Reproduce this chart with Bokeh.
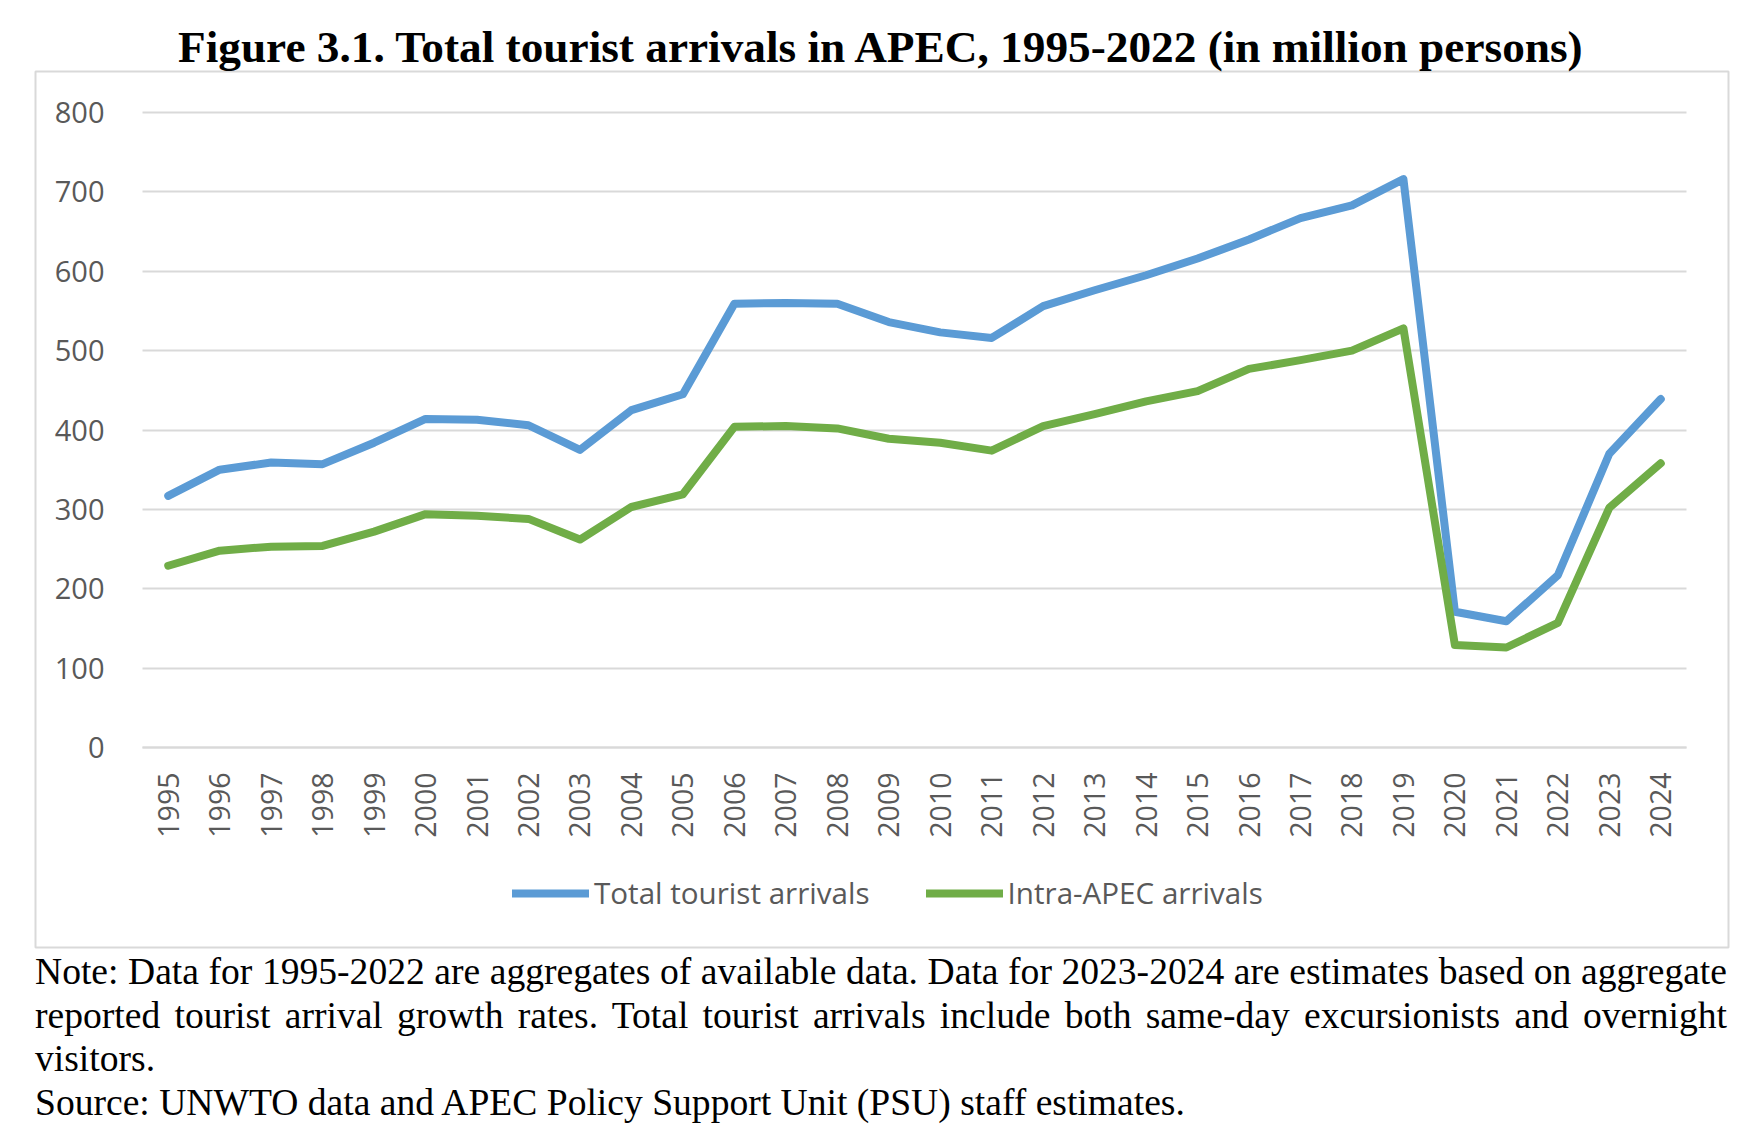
from bokeh.plotting import figure
from bokeh.models import FixedTicker, Legend, LegendItem, Div
from bokeh.layouts import column
from bokeh.embed import file_html
from bokeh.resources import INLINE
import math

years = list(range(1995, 2025))
total_arrivals = [317, 350, 359, 357, 384, 414, 413, 406, 375, 425, 445,
                  559, 560, 559, 536, 523, 516, 556, 576, 595, 616, 640,
                  667, 683, 716, 171, 159, 217, 370, 439]
intra_apec = [229, 248, 253, 254, 272, 294, 292, 288, 262, 303, 319,
              404, 405, 402, 389, 384, 374, 405, 420, 436, 449, 477,
              488, 500, 528, 129, 126, 157, 302, 358]
y_ticks = [0, 100, 200, 300, 400, 500, 600, 700, 800]
series_names = ["Total tourist arrivals", "Intra-APEC arrivals"]

title_text = "Figure 3.1. Total tourist arrivals in APEC, 1995-2022 (in million persons)"
note_text = ("Note: Data for 1995-2022 are aggregates of available data. Data for 2023-2024 are "
             "estimates based on aggregate reported tourist arrival growth rates. Total tourist "
             "arrivals include both same-day excursionists and overnight visitors.")
source_text = "Source: UNWTO data and APEC Policy Support Unit (PSU) staff estimates."

GRAY_TXT = "#595959"
GRID = "#D9D9D9"
BLUE = "#5B9BD5"
GREEN = "#70AD47"

# plot-area geometry (pixels inside the chart box)
X0, X1 = years[0] - 0.5, years[-1] + 0.5
Y0, Y1 = y_ticks[0], y_ticks[-1]
box_w, box_h = 1693, 876
pad_l, pad_r, pad_t, pad_b = 107, 42, 41, 200
sx = (box_w - pad_l - pad_r) / (X1 - X0)
sy = (box_h - pad_t - pad_b) / (Y1 - Y0)

p = figure(width=1757, height=950, output_backend="svg", toolbar_location=None,
           x_range=(X0 - pad_l / sx, X1 + pad_r / sx),
           y_range=(Y0 - pad_b / sy, Y1 + pad_t / sy),
           min_border_left=35, min_border_right=29, min_border_top=71,
           min_border_bottom=3)
p.outline_line_color = GRID
p.outline_line_width = 2
p.background_fill_color = "white"
p.border_fill_color = "white"

p.title.text = title_text
p.title.text_font = "Liberation Serif"
p.title.text_font_size = "45.3px"
p.title.text_font_style = "bold"
p.title.text_color = "black"
p.title.align = "center"
p.title.standoff = 0

r1 = p.line(years, total_arrivals, line_color=BLUE, line_width=8,
            line_join="round", line_cap="round")
r2 = p.line(years, intra_apec, line_color=GREEN, line_width=8,
            line_join="round", line_cap="round")

# axes (placed inside the chart box)
p.xaxis.fixed_location = 0
p.xaxis.bounds = (X0, X1)
p.xaxis.ticker = FixedTicker(ticks=years)
p.xaxis.major_label_orientation = math.pi / 2
p.xaxis.major_label_text_font = "Open Sans"
p.xaxis.major_label_text_font_size = "28.5px"
p.xaxis.major_label_text_color = GRAY_TXT
p.xaxis.major_tick_line_color = None
p.xaxis.minor_tick_line_color = None
p.xaxis.axis_line_color = GRID
p.xaxis.axis_line_width = 2
p.xaxis.major_label_standoff = 19

p.yaxis.fixed_location = X0
p.yaxis.bounds = (Y0, Y1)
p.yaxis.ticker = FixedTicker(ticks=y_ticks)
p.yaxis.major_label_text_font = "Open Sans"
p.yaxis.major_label_text_font_size = "29px"
p.yaxis.major_label_text_color = GRAY_TXT
p.yaxis.major_tick_line_color = None
p.yaxis.minor_tick_line_color = None
p.yaxis.axis_line_color = None
p.yaxis.major_label_standoff = 32

p.xgrid.grid_line_color = None
p.ygrid.grid_line_color = GRID
p.ygrid.grid_line_width = 2
p.ygrid.ticker = FixedTicker(ticks=y_ticks)
p.ygrid.cross_bounds = (X0, X1)

legend = Legend(items=[LegendItem(label=series_names[0], renderers=[r1]),
                       LegendItem(label=series_names[1], renderers=[r2])],
                orientation="horizontal", location=(477, 34))
legend.border_line_color = None
legend.background_fill_alpha = 0
legend.padding = 0
legend.margin = 0
legend.spacing = 56
legend.glyph_width = 77
legend.glyph_height = 30
legend.label_standoff = 5
legend.label_text_font = "Open Sans"
legend.label_text_font_size = "29.6px"
legend.label_text_color = GRAY_TXT
p.add_layout(legend, "center")

notes = Div(text=note_text + "<br>" + source_text, width=1692,
            margin=(0, 0, 0, 35),
            styles={"font-family": "'Liberation Serif'", "font-size": "37.6px",
                    "line-height": "43.5px", "text-align": "justify",
                    "color": "black"})

layout = column(p, notes, spacing=0)
open("out.html", "w").write(file_html(layout, INLINE))
